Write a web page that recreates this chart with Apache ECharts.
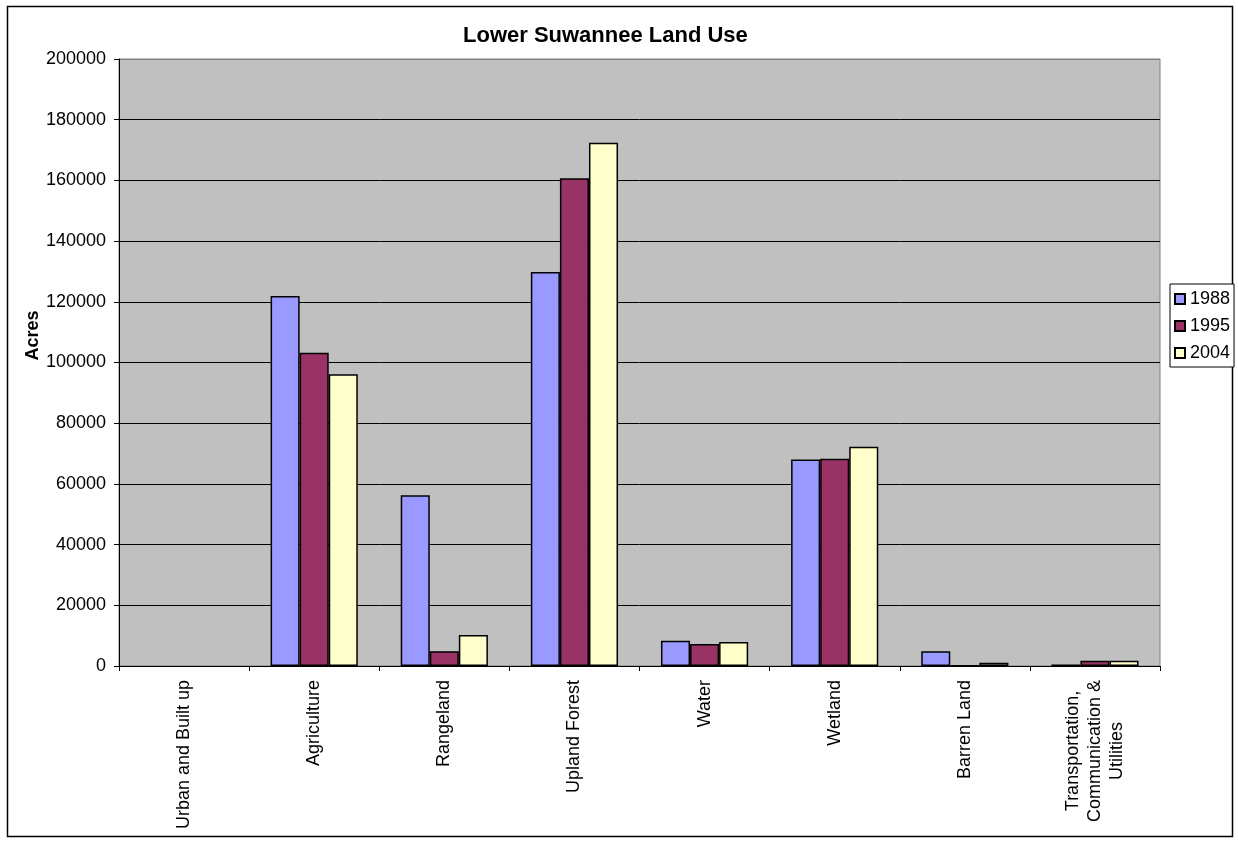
<!DOCTYPE html>
<html>
<head>
<meta charset="utf-8">
<script src="https://cdn.jsdelivr.net/npm/echarts@6/dist/echarts.min.js"></script>
<style>
  html, body { margin: 0; padding: 0; background: #fff; }
  #chart { width: 1238px; height: 842px; }
</style>
</head>
<body>
<div id="chart"></div>
<script>
// Land-use categories (acres) for the Lower Suwannee basin
const categories = [
  'Urban and Built up',
  'Agriculture',
  'Rangeland',
  'Upland Forest',
  'Water',
  'Wetland',
  'Barren Land',
  'Transportation,\nCommunication &\nUtilities'
];
const years = ['1988', '1995', '2004'];
// null = no acreage reported for that year
const acres1988 = [null, 121900, 56300, 129800, 8300, 68000, 4900, 500];
const acres1995 = [null, 103200, 4900, 160700, 7250, 68300, 150, 1750];
const acres2004 = [null, 96100, 10200, 172400, 7900, 72200, 1050, 1750];
const yTicks = [0, 20000, 40000, 60000, 80000, 100000, 120000, 140000, 160000, 180000, 200000];

const colors = ['#9999FF', '#993366', '#FFFFCC'];
const FONT = 'Liberation Sans, Arial, sans-serif';
const LABEL_SIZE = 18;

const chart = echarts.init(document.getElementById('chart'), null, { renderer: 'canvas' });

const seriesData = [acres1988, acres1995, acres2004];

// Grid lines black, except the top one which blends into the grey plot frame
const splitColors = yTicks.map((v, i) => i === yTicks.length - 1 ? '#808080' : '#000000');

// Multi-line category names: centre each line inside a common block
function categoryLabel(value) {
  if (value.indexOf('\n') < 0) return value;
  return value.split('\n').map(s => '{c|' + s + '}').join('\n');
}

chart.setOption({
  animation: false,
  backgroundColor: '#ffffff',
  textStyle: { fontFamily: FONT },
  title: {
    text: 'Lower Suwannee Land Use',
    left: 463,
    top: 20,
    padding: [5, 0, 5, 0],
    textStyle: { fontFamily: FONT, fontSize: 22, fontWeight: 'bold', color: '#000' }
  },
  legend: {
    orient: 'vertical',
    left: 1170,
    top: 284,
    data: years,
    itemWidth: 10,
    itemHeight: 10,
    itemGap: 9,
    padding: [6, 4, 5, 4],
    borderColor: '#000',
    borderWidth: 1,
    backgroundColor: '#fff',
    textStyle: { fontFamily: FONT, fontSize: LABEL_SIZE, color: '#000' },
    icon: 'rect'
  },
  grid: {
    left: 119,
    top: 59,
    right: 78,
    bottom: 176,
    show: true,
    backgroundColor: '#C0C0C0',
    borderColor: '#808080',
    borderWidth: 1,
    containLabel: false
  },
  xAxis: {
    type: 'category',
    data: categories,
    axisLine: { show: true, lineStyle: { color: '#000', width: 1 } },
    axisTick: { show: true, alignWithLabel: false, length: 5, lineStyle: { color: '#000' } },
    axisLabel: {
      interval: 0,
      rotate: 90,
      margin: 14,
      fontFamily: FONT,
      fontSize: LABEL_SIZE,
      color: '#000',
      lineHeight: 22,
      formatter: categoryLabel,
      rich: {
        c: { width: 142, align: 'center', fontFamily: FONT, fontSize: LABEL_SIZE, color: '#000', lineHeight: 22 }
      }
    }
  },
  yAxis: {
    type: 'value',
    min: 0,
    max: 200000,
    interval: 20000,
    name: 'Acres',
    nameLocation: 'middle',
    nameRotate: 90,
    nameGap: 77,
    nameMoveOverlap: false,
    nameTextStyle: {
      fontFamily: FONT, fontSize: LABEL_SIZE, fontWeight: 'bold', color: '#000',
      padding: [0, 0, 0, 54]
    },
    axisLine: { show: true, lineStyle: { color: '#000', width: 1 } },
    axisTick: { show: true, length: 5, lineStyle: { color: '#000' } },
    axisLabel: {
      fontFamily: FONT, fontSize: LABEL_SIZE, color: '#000', margin: 13,
      formatter: v => String(v)
    },
    splitLine: { show: true, lineStyle: { color: splitColors, width: 1 } }
  },
  series: years.map((y, i) => ({
    name: y,
    type: 'bar',
    data: seriesData[i],
    barGap: '0%',
    barCategoryGap: '33%',
    itemStyle: { color: colors[i], borderColor: '#000', borderWidth: 1.5 }
  })),
  graphic: [{
    type: 'rect',
    silent: true,
    shape: { x: 7.5, y: 6.5, width: 1225, height: 830 },
    style: { fill: 'none', stroke: '#000', lineWidth: 1.5 }
  }]
});
</script>
</body>
</html>
